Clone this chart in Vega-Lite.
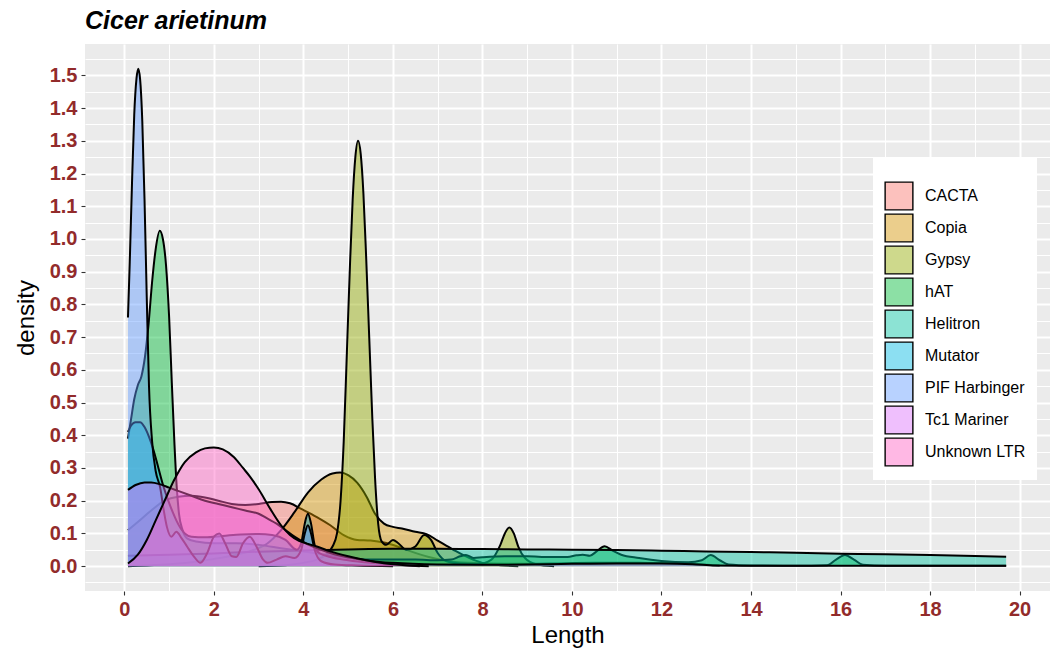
{
  "$schema": "https://vega.github.io/schema/vega-lite/v6.json",
  "width": 965,
  "height": 547,
  "autosize": {"type": "none"},
  "padding": {"left": 85, "top": 44, "right": 2, "bottom": 58},
  "background": "white",
  "title": {"text": "Cicer arietinum", "anchor": "start", "frame": "group", "font": "Liberation Sans", "fontSize": 25, "fontWeight": "bold", "fontStyle": "italic", "color": "black", "offset": 10},
  "config": {
    "view": {"fill": "#EBEBEB", "stroke": null},
    "axis": {"domain": false, "gridColor": "white", "tickColor": "#333333", "tickSize": 4, "tickWidth": 1.1, "labelFont": "Liberation Sans", "labelFontWeight": "bold", "labelFontSize": 20, "labelColor": "#922B2B", "titleFont": "Liberation Sans", "titleFontWeight": "normal", "titleFontSize": 24, "titleColor": "black", "labelPadding": 4}
  },
  "data": {"values": [
    {"s":"CACTA","x":0.08,"y":0.11},{"s":"CACTA","x":0.3,"y":0.135},{"s":"CACTA","x":0.6,"y":0.17},{"s":"CACTA","x":0.9,"y":0.2},{"s":"CACTA","x":1.2,"y":0.212},{"s":"CACTA","x":1.5,"y":0.215},{"s":"CACTA","x":1.8,"y":0.21},{"s":"CACTA","x":2.1,"y":0.2},{"s":"CACTA","x":2.4,"y":0.19},{"s":"CACTA","x":2.7,"y":0.187},{"s":"CACTA","x":3.0,"y":0.19},{"s":"CACTA","x":3.3,"y":0.196},{"s":"CACTA","x":3.5,"y":0.197},{"s":"CACTA","x":3.7,"y":0.192},{"s":"CACTA","x":3.95,"y":0.175},{"s":"CACTA","x":4.3,"y":0.15},{"s":"CACTA","x":4.6,"y":0.125},{"s":"CACTA","x":4.9,"y":0.095},{"s":"CACTA","x":5.2,"y":0.08},{"s":"CACTA","x":5.5,"y":0.078},{"s":"CACTA","x":5.8,"y":0.072},{"s":"CACTA","x":6.1,"y":0.06},{"s":"CACTA","x":6.4,"y":0.045},{"s":"CACTA","x":6.8,"y":0.028},{"s":"CACTA","x":7.2,"y":0.016},{"s":"CACTA","x":7.7,"y":0.01},{"s":"CACTA","x":8.5,"y":0.007},{"s":"CACTA","x":9.5,"y":0.008},{"s":"CACTA","x":10.5,"y":0.01},{"s":"CACTA","x":11.5,"y":0.01},{"s":"CACTA","x":12.3,"y":0.009},{"s":"CACTA","x":12.8,"y":0.006},{"s":"CACTA","x":13.3,"y":0.002},
    {"s":"Copia","x":0.08,"y":0.0},{"s":"Copia","x":0.8,"y":0.004},{"s":"Copia","x":1.5,"y":0.012},{"s":"Copia","x":2.0,"y":0.022},{"s":"Copia","x":2.5,"y":0.035},{"s":"Copia","x":2.9,"y":0.05},{"s":"Copia","x":3.2,"y":0.07},{"s":"Copia","x":3.5,"y":0.11},{"s":"Copia","x":3.8,"y":0.165},{"s":"Copia","x":4.1,"y":0.225},{"s":"Copia","x":4.4,"y":0.265},{"s":"Copia","x":4.65,"y":0.283},{"s":"Copia","x":4.82,"y":0.286},{"s":"Copia","x":5.0,"y":0.278},{"s":"Copia","x":5.2,"y":0.255},{"s":"Copia","x":5.42,"y":0.21},{"s":"Copia","x":5.6,"y":0.16},{"s":"Copia","x":5.8,"y":0.13},{"s":"Copia","x":6.0,"y":0.12},{"s":"Copia","x":6.2,"y":0.115},{"s":"Copia","x":6.5,"y":0.105},{"s":"Copia","x":6.75,"y":0.098},{"s":"Copia","x":7.0,"y":0.078},{"s":"Copia","x":7.35,"y":0.05},{"s":"Copia","x":7.7,"y":0.025},{"s":"Copia","x":8.0,"y":0.01},{"s":"Copia","x":8.4,"y":0.003},{"s":"Copia","x":8.8,"y":0.0},
    {"s":"Gypsy","x":3.0,"y":0.0},{"s":"Gypsy","x":3.6,"y":0.003},{"s":"Gypsy","x":4.0,"y":0.01},{"s":"Gypsy","x":4.3,"y":0.02},{"s":"Gypsy","x":4.5,"y":0.035},{"s":"Gypsy","x":4.65,"y":0.06},{"s":"Gypsy","x":4.75,"y":0.1},{"s":"Gypsy","x":4.83,"y":0.2},{"s":"Gypsy","x":4.9,"y":0.38},{"s":"Gypsy","x":4.97,"y":0.65},{"s":"Gypsy","x":5.04,"y":0.92},{"s":"Gypsy","x":5.1,"y":1.12},{"s":"Gypsy","x":5.16,"y":1.25},{"s":"Gypsy","x":5.22,"y":1.3},{"s":"Gypsy","x":5.28,"y":1.26},{"s":"Gypsy","x":5.34,"y":1.14},{"s":"Gypsy","x":5.4,"y":0.95},{"s":"Gypsy","x":5.47,"y":0.7},{"s":"Gypsy","x":5.54,"y":0.45},{"s":"Gypsy","x":5.6,"y":0.27},{"s":"Gypsy","x":5.67,"y":0.13},{"s":"Gypsy","x":5.75,"y":0.075},{"s":"Gypsy","x":5.85,"y":0.065},{"s":"Gypsy","x":6.0,"y":0.08},{"s":"Gypsy","x":6.12,"y":0.07},{"s":"Gypsy","x":6.3,"y":0.05},{"s":"Gypsy","x":6.5,"y":0.06},{"s":"Gypsy","x":6.7,"y":0.095},{"s":"Gypsy","x":6.85,"y":0.08},{"s":"Gypsy","x":7.0,"y":0.04},{"s":"Gypsy","x":7.2,"y":0.015},{"s":"Gypsy","x":7.5,"y":0.008},{"s":"Gypsy","x":7.9,"y":0.006},{"s":"Gypsy","x":8.2,"y":0.02},{"s":"Gypsy","x":8.4,"y":0.065},{"s":"Gypsy","x":8.5,"y":0.1},{"s":"Gypsy","x":8.6,"y":0.118},{"s":"Gypsy","x":8.7,"y":0.1},{"s":"Gypsy","x":8.8,"y":0.06},{"s":"Gypsy","x":8.95,"y":0.025},{"s":"Gypsy","x":9.2,"y":0.006},{"s":"Gypsy","x":9.6,"y":0.0},
    {"s":"hAT","x":0.08,"y":0.39},{"s":"hAT","x":0.15,"y":0.45},{"s":"hAT","x":0.22,"y":0.51},{"s":"hAT","x":0.3,"y":0.553},{"s":"hAT","x":0.38,"y":0.58},{"s":"hAT","x":0.46,"y":0.64},{"s":"hAT","x":0.54,"y":0.74},{"s":"hAT","x":0.62,"y":0.87},{"s":"hAT","x":0.7,"y":0.97},{"s":"hAT","x":0.79,"y":1.025},{"s":"hAT","x":0.86,"y":1.0},{"s":"hAT","x":0.93,"y":0.92},{"s":"hAT","x":1.0,"y":0.76},{"s":"hAT","x":1.06,"y":0.56},{"s":"hAT","x":1.12,"y":0.37},{"s":"hAT","x":1.17,"y":0.24},{"s":"hAT","x":1.22,"y":0.16},{"s":"hAT","x":1.3,"y":0.11},{"s":"hAT","x":1.4,"y":0.085},{"s":"hAT","x":1.6,"y":0.075},{"s":"hAT","x":2.0,"y":0.07},{"s":"hAT","x":2.5,"y":0.07},{"s":"hAT","x":3.0,"y":0.065},{"s":"hAT","x":3.5,"y":0.055},{"s":"hAT","x":4.0,"y":0.045},{"s":"hAT","x":4.5,"y":0.035},{"s":"hAT","x":5.0,"y":0.025},{"s":"hAT","x":5.5,"y":0.02},{"s":"hAT","x":6.0,"y":0.02},{"s":"hAT","x":6.5,"y":0.02},{"s":"hAT","x":7.0,"y":0.018},{"s":"hAT","x":7.3,"y":0.02},{"s":"hAT","x":7.5,"y":0.03},{"s":"hAT","x":7.63,"y":0.034},{"s":"hAT","x":7.8,"y":0.025},{"s":"hAT","x":8.0,"y":0.027},{"s":"hAT","x":8.5,"y":0.03},{"s":"hAT","x":9.0,"y":0.03},{"s":"hAT","x":9.5,"y":0.028},{"s":"hAT","x":9.9,"y":0.028},{"s":"hAT","x":10.1,"y":0.033},{"s":"hAT","x":10.24,"y":0.035},{"s":"hAT","x":10.4,"y":0.032},{"s":"hAT","x":10.55,"y":0.045},{"s":"hAT","x":10.73,"y":0.061},{"s":"hAT","x":10.9,"y":0.048},{"s":"hAT","x":11.1,"y":0.035},{"s":"hAT","x":11.5,"y":0.025},{"s":"hAT","x":12.0,"y":0.016},{"s":"hAT","x":12.6,"y":0.012},{"s":"hAT","x":12.9,"y":0.018},{"s":"hAT","x":13.1,"y":0.034},{"s":"hAT","x":13.3,"y":0.018},{"s":"hAT","x":13.5,"y":0.005},{"s":"hAT","x":14.0,"y":0.002},{"s":"hAT","x":15.0,"y":0.001},{"s":"hAT","x":15.7,"y":0.003},{"s":"hAT","x":15.9,"y":0.02},{"s":"hAT","x":16.1,"y":0.034},{"s":"hAT","x":16.3,"y":0.02},{"s":"hAT","x":16.5,"y":0.004},{"s":"hAT","x":17.0,"y":0.001},{"s":"hAT","x":19.7,"y":0.001},
    {"s":"Helitron","x":0.08,"y":0.032},{"s":"Helitron","x":1,"y":0.035},{"s":"Helitron","x":2,"y":0.039},{"s":"Helitron","x":3,"y":0.044},{"s":"Helitron","x":4,"y":0.048},{"s":"Helitron","x":5,"y":0.051},{"s":"Helitron","x":6,"y":0.053},{"s":"Helitron","x":7,"y":0.053},{"s":"Helitron","x":8,"y":0.052},{"s":"Helitron","x":9,"y":0.051},{"s":"Helitron","x":10,"y":0.05},{"s":"Helitron","x":11,"y":0.049},{"s":"Helitron","x":12,"y":0.047},{"s":"Helitron","x":13,"y":0.045},{"s":"Helitron","x":14,"y":0.043},{"s":"Helitron","x":15,"y":0.041},{"s":"Helitron","x":16,"y":0.038},{"s":"Helitron","x":17,"y":0.036},{"s":"Helitron","x":18,"y":0.034},{"s":"Helitron","x":19,"y":0.031},{"s":"Helitron","x":19.7,"y":0.029},
    {"s":"Mutator","x":0.08,"y":0.41},{"s":"Mutator","x":0.15,"y":0.43},{"s":"Mutator","x":0.25,"y":0.44},{"s":"Mutator","x":0.35,"y":0.44},{"s":"Mutator","x":0.45,"y":0.425},{"s":"Mutator","x":0.55,"y":0.395},{"s":"Mutator","x":0.65,"y":0.355},{"s":"Mutator","x":0.76,"y":0.3},{"s":"Mutator","x":0.87,"y":0.245},{"s":"Mutator","x":0.98,"y":0.2},{"s":"Mutator","x":1.08,"y":0.165},{"s":"Mutator","x":1.16,"y":0.14},{"s":"Mutator","x":1.26,"y":0.115},{"s":"Mutator","x":1.35,"y":0.1},{"s":"Mutator","x":1.5,"y":0.09},{"s":"Mutator","x":1.8,"y":0.088},{"s":"Mutator","x":2.2,"y":0.092},{"s":"Mutator","x":2.6,"y":0.097},{"s":"Mutator","x":3.0,"y":0.098},{"s":"Mutator","x":3.3,"y":0.095},{"s":"Mutator","x":3.6,"y":0.08},{"s":"Mutator","x":3.85,"y":0.05},{"s":"Mutator","x":3.95,"y":0.07},{"s":"Mutator","x":4.03,"y":0.13},{"s":"Mutator","x":4.1,"y":0.16},{"s":"Mutator","x":4.17,"y":0.13},{"s":"Mutator","x":4.25,"y":0.065},{"s":"Mutator","x":4.35,"y":0.04},{"s":"Mutator","x":4.6,"y":0.028},{"s":"Mutator","x":5.0,"y":0.018},{"s":"Mutator","x":5.5,"y":0.01},{"s":"Mutator","x":6.0,"y":0.005},{"s":"Mutator","x":6.6,"y":0.0},
    {"s":"PIF Harbinger","x":0.08,"y":0.76},{"s":"PIF Harbinger","x":0.12,"y":0.93},{"s":"PIF Harbinger","x":0.17,"y":1.17},{"s":"PIF Harbinger","x":0.22,"y":1.38},{"s":"PIF Harbinger","x":0.27,"y":1.49},{"s":"PIF Harbinger","x":0.31,"y":1.52},{"s":"PIF Harbinger","x":0.35,"y":1.49},{"s":"PIF Harbinger","x":0.4,"y":1.36},{"s":"PIF Harbinger","x":0.45,"y":1.12},{"s":"PIF Harbinger","x":0.5,"y":0.82},{"s":"PIF Harbinger","x":0.55,"y":0.55},{"s":"PIF Harbinger","x":0.62,"y":0.38},{"s":"PIF Harbinger","x":0.7,"y":0.29},{"s":"PIF Harbinger","x":0.8,"y":0.24},{"s":"PIF Harbinger","x":0.88,"y":0.17},{"s":"PIF Harbinger","x":0.95,"y":0.12},{"s":"PIF Harbinger","x":1.05,"y":0.09},{"s":"PIF Harbinger","x":1.16,"y":0.105},{"s":"PIF Harbinger","x":1.28,"y":0.085},{"s":"PIF Harbinger","x":1.4,"y":0.06},{"s":"PIF Harbinger","x":1.55,"y":0.03},{"s":"PIF Harbinger","x":1.7,"y":0.01},{"s":"PIF Harbinger","x":1.85,"y":0.04},{"s":"PIF Harbinger","x":2.0,"y":0.09},{"s":"PIF Harbinger","x":2.12,"y":0.1},{"s":"PIF Harbinger","x":2.25,"y":0.07},{"s":"PIF Harbinger","x":2.4,"y":0.03},{"s":"PIF Harbinger","x":2.5,"y":0.028},{"s":"PIF Harbinger","x":2.65,"y":0.07},{"s":"PIF Harbinger","x":2.8,"y":0.09},{"s":"PIF Harbinger","x":2.95,"y":0.06},{"s":"PIF Harbinger","x":3.1,"y":0.02},{"s":"PIF Harbinger","x":3.2,"y":0.01},{"s":"PIF Harbinger","x":3.4,"y":0.02},{"s":"PIF Harbinger","x":3.6,"y":0.03},{"s":"PIF Harbinger","x":3.8,"y":0.025},{"s":"PIF Harbinger","x":3.95,"y":0.05},{"s":"PIF Harbinger","x":4.03,"y":0.1},{"s":"PIF Harbinger","x":4.1,"y":0.125},{"s":"PIF Harbinger","x":4.17,"y":0.1},{"s":"PIF Harbinger","x":4.25,"y":0.05},{"s":"PIF Harbinger","x":4.4,"y":0.015},{"s":"PIF Harbinger","x":4.7,"y":0.005},{"s":"PIF Harbinger","x":5.2,"y":0.002},{"s":"PIF Harbinger","x":6.0,"y":0.0},
    {"s":"Tc1 Mariner","x":0.08,"y":0.233},{"s":"Tc1 Mariner","x":0.25,"y":0.248},{"s":"Tc1 Mariner","x":0.45,"y":0.256},{"s":"Tc1 Mariner","x":0.6,"y":0.256},{"s":"Tc1 Mariner","x":0.8,"y":0.25},{"s":"Tc1 Mariner","x":1.0,"y":0.24},{"s":"Tc1 Mariner","x":1.2,"y":0.23},{"s":"Tc1 Mariner","x":1.5,"y":0.215},{"s":"Tc1 Mariner","x":1.8,"y":0.2},{"s":"Tc1 Mariner","x":2.1,"y":0.19},{"s":"Tc1 Mariner","x":2.4,"y":0.18},{"s":"Tc1 Mariner","x":2.7,"y":0.17},{"s":"Tc1 Mariner","x":3.0,"y":0.16},{"s":"Tc1 Mariner","x":3.2,"y":0.145},{"s":"Tc1 Mariner","x":3.4,"y":0.13},{"s":"Tc1 Mariner","x":3.6,"y":0.11},{"s":"Tc1 Mariner","x":3.8,"y":0.09},{"s":"Tc1 Mariner","x":4.05,"y":0.07},{"s":"Tc1 Mariner","x":4.3,"y":0.055},{"s":"Tc1 Mariner","x":4.6,"y":0.04},{"s":"Tc1 Mariner","x":5.0,"y":0.027},{"s":"Tc1 Mariner","x":5.5,"y":0.016},{"s":"Tc1 Mariner","x":6.0,"y":0.01},{"s":"Tc1 Mariner","x":7.0,"y":0.005},{"s":"Tc1 Mariner","x":8.0,"y":0.004},{"s":"Tc1 Mariner","x":9.0,"y":0.005},{"s":"Tc1 Mariner","x":10.0,"y":0.007},{"s":"Tc1 Mariner","x":11.0,"y":0.008},{"s":"Tc1 Mariner","x":12.0,"y":0.008},{"s":"Tc1 Mariner","x":12.7,"y":0.006},{"s":"Tc1 Mariner","x":13.2,"y":0.002},{"s":"Tc1 Mariner","x":14.0,"y":0.001},{"s":"Tc1 Mariner","x":19.7,"y":0.001},
    {"s":"Unknown LTR","x":0.08,"y":0.008},{"s":"Unknown LTR","x":0.3,"y":0.035},{"s":"Unknown LTR","x":0.5,"y":0.08},{"s":"Unknown LTR","x":0.7,"y":0.14},{"s":"Unknown LTR","x":0.9,"y":0.2},{"s":"Unknown LTR","x":1.1,"y":0.26},{"s":"Unknown LTR","x":1.35,"y":0.318},{"s":"Unknown LTR","x":1.6,"y":0.348},{"s":"Unknown LTR","x":1.8,"y":0.36},{"s":"Unknown LTR","x":2.0,"y":0.363},{"s":"Unknown LTR","x":2.2,"y":0.357},{"s":"Unknown LTR","x":2.45,"y":0.333},{"s":"Unknown LTR","x":2.65,"y":0.3},{"s":"Unknown LTR","x":2.81,"y":0.273},{"s":"Unknown LTR","x":3.0,"y":0.235},{"s":"Unknown LTR","x":3.26,"y":0.175},{"s":"Unknown LTR","x":3.5,"y":0.125},{"s":"Unknown LTR","x":3.7,"y":0.095},{"s":"Unknown LTR","x":3.9,"y":0.077},{"s":"Unknown LTR","x":4.1,"y":0.068},{"s":"Unknown LTR","x":4.3,"y":0.06},{"s":"Unknown LTR","x":4.6,"y":0.045},{"s":"Unknown LTR","x":5.0,"y":0.03},{"s":"Unknown LTR","x":5.4,"y":0.018},{"s":"Unknown LTR","x":5.8,"y":0.009},{"s":"Unknown LTR","x":6.3,"y":0.003},{"s":"Unknown LTR","x":6.8,"y":0.0}
  ]},
  "encoding": {
    "x": {"field": "x", "type": "quantitative", "title": "Length",
      "scale": {"domain": [-0.88, 20.68], "nice": false, "zero": false},
      "axis": {"values": [0,1,2,3,4,5,6,7,8,9,10,11,12,13,14,15,16,17,18,19,20],
        "labelExpr": "datum.value % 2 === 0 ? datum.label : ''",
        "gridWidth": {"condition": {"test": "datum.value % 2 === 0", "value": 2}, "value": 1},
        "tickOpacity": {"condition": {"test": "datum.value % 2 === 0", "value": 1}, "value": 0},
        "titlePadding": 4}},
    "y": {"field": "y", "type": "quantitative", "title": "density",
      "scale": {"domain": [-0.076, 1.596], "nice": false, "zero": false},
      "axis": {"values": [-0.05,0,0.05,0.1,0.15,0.2,0.25,0.3,0.35,0.4,0.45,0.5,0.55,0.6,0.65,0.7,0.75,0.8,0.85,0.9,0.95,1,1.05,1.1,1.15,1.2,1.25,1.3,1.35,1.4,1.45,1.5,1.55],
        "labelExpr": "round(datum.value*20) % 2 === 0 ? format(datum.value, '.1f') : ''",
        "gridWidth": {"condition": {"test": "round(datum.value*20) % 2 === 0", "value": 2}, "value": 1},
        "tickOpacity": {"condition": {"test": "round(datum.value*20) % 2 === 0", "value": 1}, "value": 0},
        "titleX": -47}},
    "color": {"field": "s", "type": "nominal",
      "scale": {"domain": ["CACTA","Copia","Gypsy","hAT","Helitron","Mutator","PIF Harbinger","Tc1 Mariner","Unknown LTR"],
        "range": ["#F8766D","#D39200","#93AA00","#00BA38","#00C19F","#00B9E3","#619CFF","#DB72FB","#FF61C3"]},
      "legend": {"title": " ", "titleFontSize": 9, "titlePadding": 3, "orient": "none", "legendX": 788, "legendY": 114, "fillColor": "white", "padding": 11,
        "symbolType": "square", "symbolSize": 770, "symbolStrokeColor": "black", "symbolStrokeWidth": 1.4,
        "labelFont": "Liberation Sans", "labelFontSize": 16, "labelColor": "black", "labelOffset": 11, "rowPadding": -2.5,
        "encode": {"symbols": {"update": {"fillOpacity": {"value": 0.45}, "stroke": {"value": "black"}}}}}}
  },
  "layer": [
    {"transform": [{"filter": "datum.s === 'CACTA'"}], "layer": [{"mark": {"type": "area", "fillOpacity": 0.45, "interpolate": "monotone"}}, {"mark": {"type": "line", "interpolate": "monotone", "strokeWidth": 2}, "encoding": {"color": {"value": "black"}}}]},
    {"transform": [{"filter": "datum.s === 'Copia'"}], "layer": [{"mark": {"type": "area", "fillOpacity": 0.45, "interpolate": "monotone"}}, {"mark": {"type": "line", "interpolate": "monotone", "strokeWidth": 2}, "encoding": {"color": {"value": "black"}}}]},
    {"transform": [{"filter": "datum.s === 'Gypsy'"}], "layer": [{"mark": {"type": "area", "fillOpacity": 0.45, "interpolate": "monotone"}}, {"mark": {"type": "line", "interpolate": "monotone", "strokeWidth": 2}, "encoding": {"color": {"value": "black"}}}]},
    {"transform": [{"filter": "datum.s === 'hAT'"}], "layer": [{"mark": {"type": "area", "fillOpacity": 0.45, "interpolate": "monotone"}}, {"mark": {"type": "line", "interpolate": "monotone", "strokeWidth": 2}, "encoding": {"color": {"value": "black"}}}]},
    {"transform": [{"filter": "datum.s === 'Helitron'"}], "layer": [{"mark": {"type": "area", "fillOpacity": 0.45, "interpolate": "monotone"}}, {"mark": {"type": "line", "interpolate": "monotone", "strokeWidth": 2}, "encoding": {"color": {"value": "black"}}}]},
    {"transform": [{"filter": "datum.s === 'Mutator'"}], "layer": [{"mark": {"type": "area", "fillOpacity": 0.45, "interpolate": "monotone"}}, {"mark": {"type": "line", "interpolate": "monotone", "strokeWidth": 2}, "encoding": {"color": {"value": "black"}}}]},
    {"transform": [{"filter": "datum.s === 'PIF Harbinger'"}], "layer": [{"mark": {"type": "area", "fillOpacity": 0.45, "interpolate": "monotone"}}, {"mark": {"type": "line", "interpolate": "monotone", "strokeWidth": 2}, "encoding": {"color": {"value": "black"}}}]},
    {"transform": [{"filter": "datum.s === 'Tc1 Mariner'"}], "layer": [{"mark": {"type": "area", "fillOpacity": 0.45, "interpolate": "monotone"}}, {"mark": {"type": "line", "interpolate": "monotone", "strokeWidth": 2}, "encoding": {"color": {"value": "black"}}}]},
    {"transform": [{"filter": "datum.s === 'Unknown LTR'"}], "layer": [{"mark": {"type": "area", "fillOpacity": 0.45, "interpolate": "monotone"}}, {"mark": {"type": "line", "interpolate": "monotone", "strokeWidth": 2}, "encoding": {"color": {"value": "black"}}}]}
  ]
}
